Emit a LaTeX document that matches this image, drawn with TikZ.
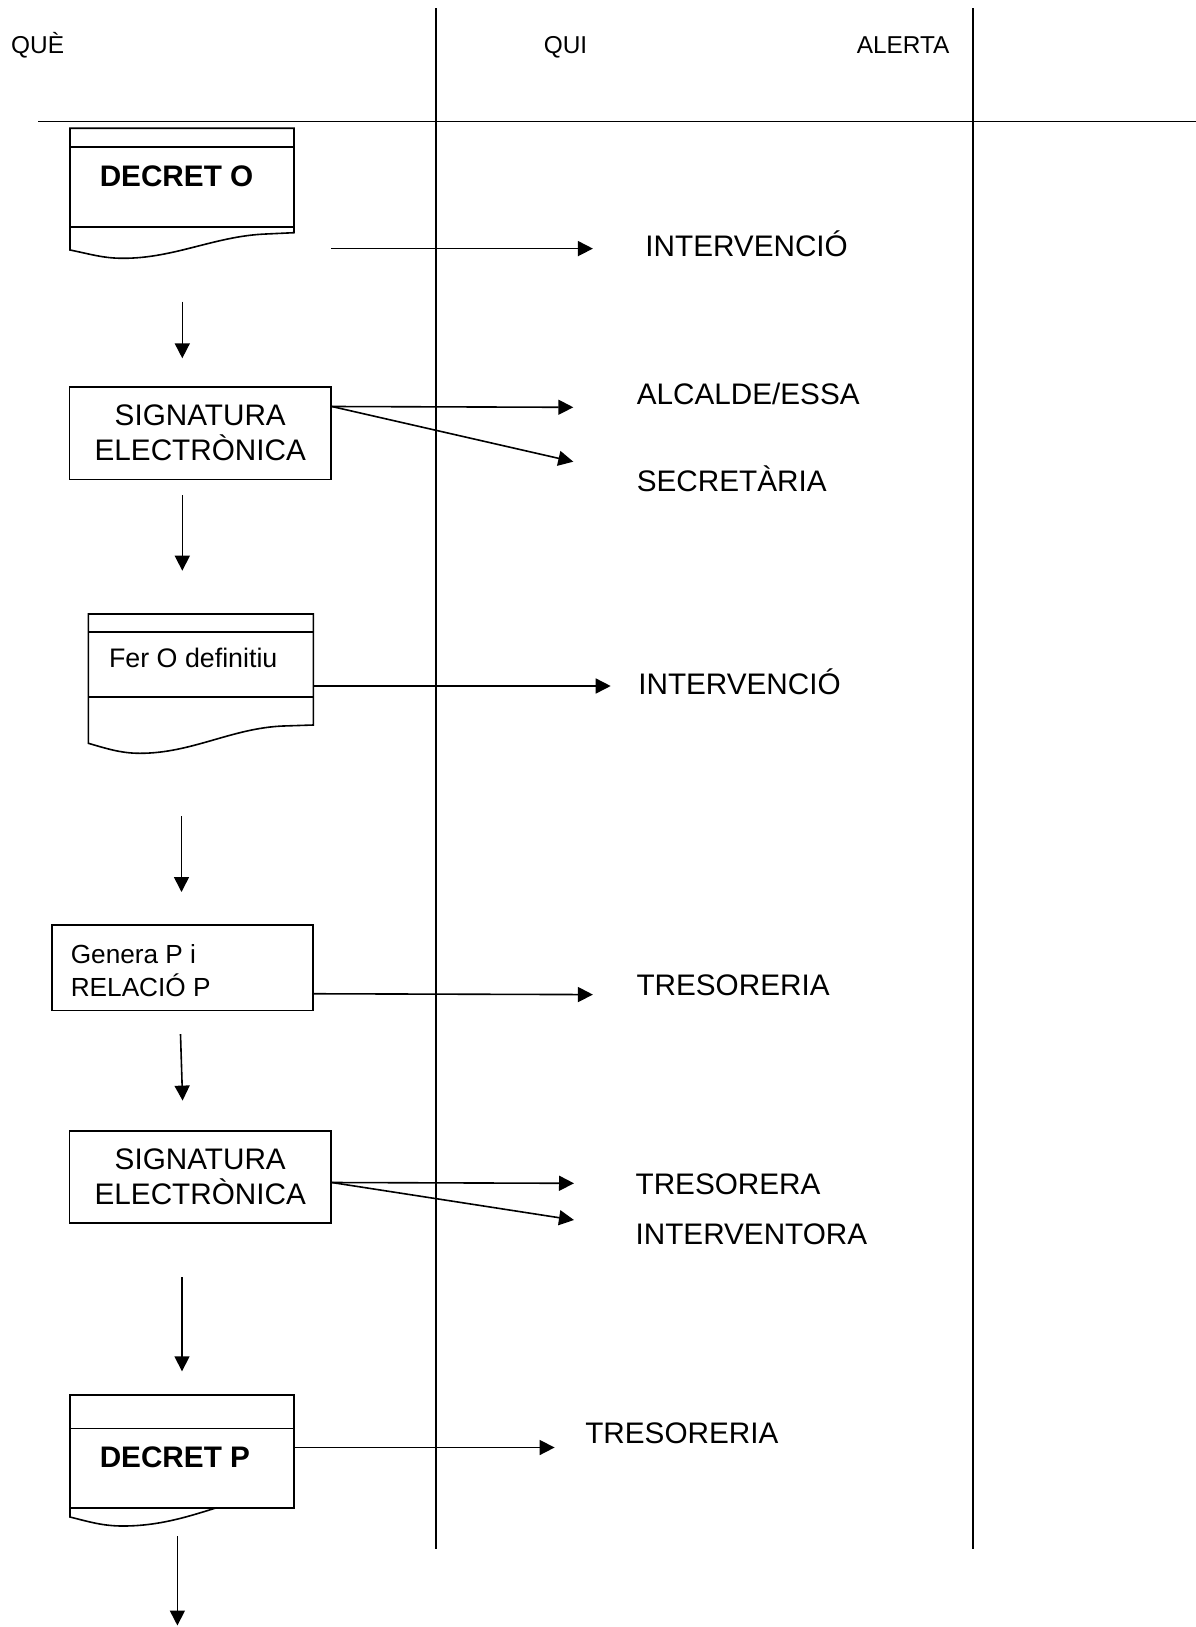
\documentclass[tikz,border=0pt]{standalone}
\usepackage{fontspec}
\setmainfont{Liberation Sans}
\usetikzlibrary{arrows.meta}
\begin{document}
\begin{tikzpicture}[x=1pt,y=-1pt,line width=1.6pt,
  big/.style={font=\fontsize{29.7}{35}\selectfont},
  mid/.style={font=\fontsize{26.2}{33.4}\selectfont},
  midb/.style={font=\fontsize{26.8}{33.4}\selectfont},
  head/.style={font=\fontsize{24.4}{28}\selectfont},
  lbl/.style={anchor=base west,inner sep=0pt},
  box/.style={draw,rectangle,inner sep=0pt,align=center},
  arr/.style={-{Triangle[length=15pt,width=15pt]}}]
\useasboundingbox (0,0) rectangle (1196,1627);
% lanes
\coordinate (v1t) at (435.7,8.3); \coordinate (v1b) at (435.7,1548.7);
\coordinate (v2t) at (973,8.3);   \coordinate (v2b) at (973,1548.7);
\coordinate (hl) at (38.4,121.4); \coordinate (hr) at (1196,121.4);
\draw (v1t) -- (v1b);
\draw (v2t) -- (v2b);
\draw (hl) -- (hr);
\node[lbl,head] (hque) at (10.4,54) {QUÈ};
\node[lbl,head] (hqui) at (543,54) {QUI};
\node[lbl,head] (halerta) at (856,54) {ALERTA};
% DECRET O document
\draw (70,250) -- (70,128.3) -- (294,128.3) -- (294,232.7) -- (266,234)
  .. controls (215,236) and (175,258.3) .. (123,258.3)
  .. controls (103,258.3) and (90,254) .. (70,250) -- cycle;
\draw (70,146.7) -- (294,146.7);
\draw (70,226.7) -- (294,226.7);
\node[lbl,big] (decO) at (99,186) {\bfseries DECRET O};
\coordinate (a1s) at (331.4,248.6); \coordinate (a1e) at (592.9,248.6);
\draw[arr] (a1s) -- (a1e);
\node[lbl,big] (int1) at (644.6,256.4) {INTERVENCIÓ};
% down 1
\coordinate (d1s) at (182.3,301.7); \coordinate (d1e) at (182.3,358.3);
\draw[arr] (d1s) -- (d1e);
% SIGNATURA 1
\node[box,big,minimum width=261.5pt,minimum height=92.6pt] (sig1) at (200.25,433) {SIGNATURA\\ELECTRÒNICA};
\coordinate (s1o) at ([yshift=-20.6pt]sig1.north east);
\coordinate (s1a) at (573.3,407.3); \coordinate (s1b) at (573.3,461.7);
\draw[arr] (s1o) -- (s1a);
\draw[arr] (s1o) -- (s1b);
\node[lbl,big] (alc) at (636,404.5) {ALCALDE/ESSA};
\node[lbl,big] (sec) at (636,491) {SECRETÀRIA};
% down 2
\coordinate (d2s) at (182.3,495); \coordinate (d2e) at (182.3,570.7);
\draw[arr] (d2s) -- (d2e);
% Fer O definitiu document
\draw (88.3,743.3) -- (88.3,614) -- (313.3,614) -- (313.3,725) -- (283.3,726)
  .. controls (232,728) and (192,753.3) .. (140,753.3)
  .. controls (120,753.3) and (105,748) .. (88.3,743.3) -- cycle;
\draw (88.3,631.7) -- (313.3,631.7);
\draw (88.3,696.8) -- (313.3,696.8);
\node[lbl,midb] (fer) at (108.3,667.7) {Fer O definitiu};
\coordinate (a2s) at (313.3,686); \coordinate (a2e) at (610.7,686);
\draw[arr] (a2s) -- (a2e);
\node[lbl,big] (int2) at (637.5,694.6) {INTERVENCIÓ};
% down 3
\coordinate (d3s) at (181.5,816.4); \coordinate (d3e) at (181.5,892);
\draw[arr] (d3s) -- (d3e);
% Genera box
\node[box,minimum width=261pt,minimum height=85.5pt] (gen) at (182.2,967.7) {};
\node[lbl,mid,align=left] (genT) at (70,996.7) {Genera P i\\RELACIÓ P};
\coordinate (a3s) at ([yshift=-69.6pt]gen.north east); \coordinate (a3e) at (592.9,994.6);
\draw[arr] (a3s) -- (a3e);
\node[lbl,big] (tre1) at (635.7,995.7) {TRESORERIA};
% down 4
\coordinate (d4s) at (180.5,1034.2); \coordinate (d4e) at (182.6,1100.6);
\draw[arr] (d4s) -- (d4e);
% SIGNATURA 2
\node[box,big,minimum width=261.5pt,minimum height=92pt] (sig2) at (200.25,1176.7) {SIGNATURA\\ELECTRÒNICA};
\coordinate (s2o) at ([yshift=-52.6pt]sig2.north east);
\coordinate (s2a) at (574,1183.3); \coordinate (s2b) at (574,1220);
\draw[arr] (s2o) -- (s2a);
\draw[arr] (s2o) -- (s2b);
\node[lbl,big] (tra) at (634.8,1194.2) {TRESORERA};
\node[lbl,big] (itv) at (634.8,1244) {INTERVENTORA};
% down 5
\coordinate (d5s) at (182,1277); \coordinate (d5e) at (182,1371.3);
\draw[arr] (d5s) -- (d5e);
% DECRET P document
\draw (70,1395) rectangle (294,1507.7);
\draw (70,1428.3) -- (294,1428.3);
\draw (70,1507.7) -- (70,1517) .. controls (90,1522) and (103,1526) .. (123,1526)
  .. controls (160,1526) and (190,1516) .. (216.7,1507.7);
\node[lbl,big] (decP) at (99,1467.3) {\bfseries DECRET P};
\coordinate (a4s) at (294,1447.5); \coordinate (a4e) at (554.6,1447.5);
\draw[arr] (a4s) -- (a4e);
\node[lbl,big] (tre2) at (584.5,1443.8) {TRESORERIA};
% down 6
\coordinate (d6s) at (177.4,1536); \coordinate (d6e) at (177.4,1625.5);
\draw[arr] (d6s) -- (d6e);
\end{tikzpicture}
\end{document}
